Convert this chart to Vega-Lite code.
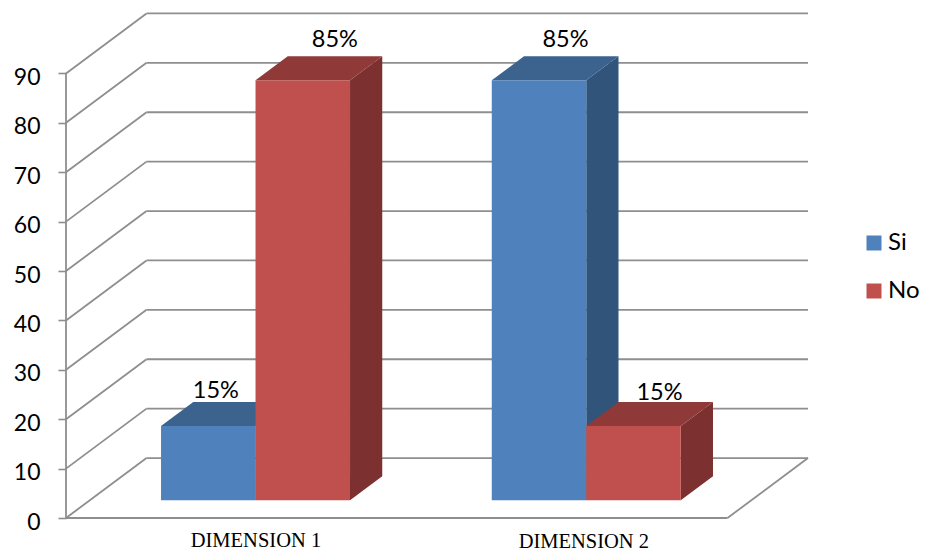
{
  "$schema": "https://vega.github.io/schema/vega-lite/v6.json",
  "width": 742,
  "height": 505,
  "autosize": "none",
  "padding": {"left": 66, "top": 13, "right": 118, "bottom": 35},
  "background": "white",
  "config": {"view": {"stroke": null}},
  "params": [
    {"name": "depthX", "value": 0.852},
    {"name": "depthY", "value": 12.14},
    {"name": "barDepthX", "value": 0.341},
    {"name": "barDepthY", "value": 4.86},
    {"name": "shearX", "value": 0.2556},
    {"name": "baseY", "value": 3.6}
  ],
  "datasets": {
    "bars": [
      {"dimension": "DIMENSION 1", "series": "Si", "value": 15},
      {"dimension": "DIMENSION 1", "series": "No", "value": 85},
      {"dimension": "DIMENSION 2", "series": "Si", "value": 85},
      {"dimension": "DIMENSION 2", "series": "No", "value": 15}
    ],
    "ticks": [
      {"tick": 0}, {"tick": 10}, {"tick": 20}, {"tick": 30}, {"tick": 40},
      {"tick": 50}, {"tick": 60}, {"tick": 70}, {"tick": 80}, {"tick": 90}
    ],
    "categories": [
      {"dimension": "DIMENSION 1"},
      {"dimension": "DIMENSION 2"}
    ]
  },
  "layer": [
    {
      "description": "Left wall and back wall gridlines, with the value axis",
      "data": {"name": "ticks"},
      "transform": [
        {"calculate": "datum.tick + depthY", "as": "backY"},
        {"calculate": "depthX", "as": "backX"},
        {"calculate": "7 + depthX", "as": "rightX"},
        {"calculate": "0", "as": "leftX"}
      ],
      "layer": [
        {
          "mark": {"type": "rule", "stroke": "#8E8E8E", "strokeWidth": 1.8},
          "encoding": {
            "x": {"field": "backX", "type": "quantitative", "scale": {"domain": [0, 7.852], "nice": false, "zero": false}, "axis": null},
            "x2": {"field": "rightX"},
            "y": {
              "field": "backY",
              "type": "quantitative",
              "scale": {"domain": [0, 102.23], "nice": false, "zero": false},
              "axis": {
                "values": [0, 10, 20, 30, 40, 50, 60, 70, 80, 90],
                "title": null,
                "grid": false,
                "domain": false,
                "tickSize": 8,
                "tickWidth": 1.6,
                "tickColor": "#8E8E8E",
                "labelFont": "Lato",
                "labelFontSize": 23,
                "labelColor": "#000000",
                "labelPadding": 18,
                "labelOffset": 4
              }
            }
          }
        },
        {
          "mark": {"type": "rule", "stroke": "#8E8E8E", "strokeWidth": 1.8},
          "encoding": {
            "x": {"field": "leftX", "type": "quantitative", "scale": {"domain": [0, 7.852], "nice": false, "zero": false}, "axis": null},
            "x2": {"field": "backX"},
            "y": {"field": "tick", "type": "quantitative", "scale": {"domain": [0, 102.23], "nice": false, "zero": false}},
            "y2": {"field": "backY"}
          }
        }
      ]
    },
    {
      "description": "Value axis line",
      "data": {"values": [{"edge": "axis"}]},
      "mark": {"type": "rule", "stroke": "#8E8E8E", "strokeWidth": 1.8},
      "encoding": {
        "x": {"datum": 0, "type": "quantitative", "scale": {"domain": [0, 7.852], "nice": false, "zero": false}},
        "y": {"datum": 0, "type": "quantitative", "scale": {"domain": [0, 102.23], "nice": false, "zero": false}},
        "y2": {"datum": 90}
      }
    },
    {
      "description": "Front edge of the floor",
      "data": {"values": [{"edge": "front"}]},
      "mark": {"type": "rule", "stroke": "#8E8E8E", "strokeWidth": 1.8},
      "encoding": {
        "x": {"datum": 0, "type": "quantitative", "scale": {"domain": [0, 7.852], "nice": false, "zero": false}},
        "x2": {"datum": 7},
        "y": {"datum": 0, "type": "quantitative", "scale": {"domain": [0, 102.23], "nice": false, "zero": false}}
      }
    },
    {
      "description": "Right edge of the floor",
      "data": {"values": [{"edge": "right"}]},
      "mark": {"type": "rule", "stroke": "#8E8E8E", "strokeWidth": 1.8},
      "encoding": {
        "x": {"datum": 7, "type": "quantitative", "scale": {"domain": [0, 7.852], "nice": false, "zero": false}},
        "x2": {"datum": 7.852},
        "y": {"datum": 0, "type": "quantitative", "scale": {"domain": [0, 102.23], "nice": false, "zero": false}},
        "y2": {"datum": 12.14}
      }
    },
    {
      "description": "The boxes: side faces first, then top faces, then front faces",
      "data": {"name": "bars"},
      "transform": [
        {"calculate": "datum.dimension === 'DIMENSION 1' ? 0 : 1", "as": "cat"},
        {"calculate": "datum.series === 'Si' ? 0 : 1", "as": "ser"},
        {"calculate": "0.75 + datum.cat * 3.5 + datum.ser + shearX", "as": "x0"},
        {"calculate": "datum.x0 + 1", "as": "x1"},
        {"calculate": "baseY + datum.value", "as": "top"},
        {"calculate": "baseY", "as": "base"}
      ],
      "layer": [
        {
          "transform": [
            {"calculate": "[0, 1]", "as": "t"},
            {"flatten": ["t"]},
            {"calculate": "datum.x1 + datum.t * barDepthX", "as": "sx"},
            {"calculate": "datum.base + datum.t * barDepthY", "as": "sLow"},
            {"calculate": "datum.top + datum.t * barDepthY", "as": "sHigh"}
          ],
          "mark": {"type": "area", "opacity": 1},
          "encoding": {
            "x": {"field": "sx", "type": "quantitative", "scale": {"domain": [0, 7.852], "nice": false, "zero": false}},
            "y": {"field": "sHigh", "type": "quantitative", "stack": null, "scale": {"domain": [0, 102.23], "nice": false, "zero": false}},
            "y2": {"field": "sLow"},
            "detail": {"field": "dimension"},
            "color": {"field": "series", "type": "nominal", "legend": null, "scale": {"domain": ["Si", "No"], "range": ["#31547B", "#7C3130"]}}
          }
        },
        {
          "transform": [
            {"calculate": "[0, 1]", "as": "t"},
            {"flatten": ["t"]},
            {"calculate": "datum.x0 + datum.t * barDepthX", "as": "tLeft"},
            {"calculate": "datum.x1 + datum.t * barDepthX", "as": "tRight"},
            {"calculate": "datum.top + datum.t * barDepthY", "as": "tY"}
          ],
          "mark": {"type": "area", "orient": "horizontal", "opacity": 1},
          "encoding": {
            "y": {"field": "tY", "type": "quantitative", "scale": {"domain": [0, 102.23], "nice": false, "zero": false}},
            "x": {"field": "tLeft", "type": "quantitative", "stack": null, "scale": {"domain": [0, 7.852], "nice": false, "zero": false}},
            "x2": {"field": "tRight"},
            "detail": {"field": "dimension"},
            "color": {"field": "series", "type": "nominal", "legend": null, "scale": {"domain": ["Si", "No"], "range": ["#3C628E", "#8F3A38"]}}
          }
        },
        {
          "mark": {"type": "rect"},
          "encoding": {
            "x": {"field": "x0", "type": "quantitative", "scale": {"domain": [0, 7.852], "nice": false, "zero": false}},
            "x2": {"field": "x1"},
            "y": {"field": "top", "type": "quantitative", "scale": {"domain": [0, 102.23], "nice": false, "zero": false}},
            "y2": {"field": "base"},
            "color": {
              "field": "series",
              "type": "nominal",
              "scale": {"domain": ["Si", "No"], "range": ["#4F81BD", "#C0504D"]},
              "legend": {
                "orient": "none",
                "legendX": 796,
                "legendY": 218,
                "title": null,
                "padding": 0,
                "symbolType": "square",
                "symbolSize": 225,
                "symbolStrokeWidth": 0,
                "labelFont": "Lato",
                "labelFontSize": 24,
                "labelColor": "#000000",
                "labelOffset": 2,
                "rowPadding": 24
              }
            }
          }
        },
        {
          "description": "Percentage labels above the boxes",
          "transform": [
            {"calculate": "datum.value + '%'", "as": "label"},
            {"calculate": "datum.x0 + 0.5 + (datum.cat === 0 ? (datum.ser === 0 ? 0.08 : 0.34) : (datum.ser === 0 ? 0.28 : 0.275))", "as": "lx"},
            {"calculate": "datum.top + barDepthY + (datum.value === 85 ? 3.35 : (datum.cat === 0 ? 2.3 : 1.8))", "as": "ly"}
          ],
          "mark": {"type": "text", "font": "Lato", "fontSize": 23.5, "color": "#000000", "align": "center", "baseline": "middle"},
          "encoding": {
            "x": {"field": "lx", "type": "quantitative", "scale": {"domain": [0, 7.852], "nice": false, "zero": false}},
            "y": {"field": "ly", "type": "quantitative", "scale": {"domain": [0, 102.23], "nice": false, "zero": false}},
            "text": {"field": "label"}
          }
        }
      ],
      "resolve": {"scale": {"color": "independent"}}
    },
    {
      "description": "Category names under the floor",
      "data": {"name": "categories"},
      "transform": [
        {"calculate": "datum.dimension === 'DIMENSION 1' ? 2.01 : 5.48", "as": "cx"},
        {"calculate": "datum.dimension === 'DIMENSION 1' ? -4.7 : -4.95", "as": "cy"}
      ],
      "mark": {"type": "text", "font": "Liberation Serif", "fontSize": 20.5, "color": "#000000", "align": "center", "baseline": "middle"},
      "encoding": {
        "x": {"field": "cx", "type": "quantitative", "scale": {"domain": [0, 7.852], "nice": false, "zero": false}},
        "y": {"field": "cy", "type": "quantitative", "scale": {"domain": [0, 102.23], "nice": false, "zero": false}},
        "text": {"field": "dimension"}
      }
    }
  ],
  "resolve": {"scale": {"color": "independent"}}
}
